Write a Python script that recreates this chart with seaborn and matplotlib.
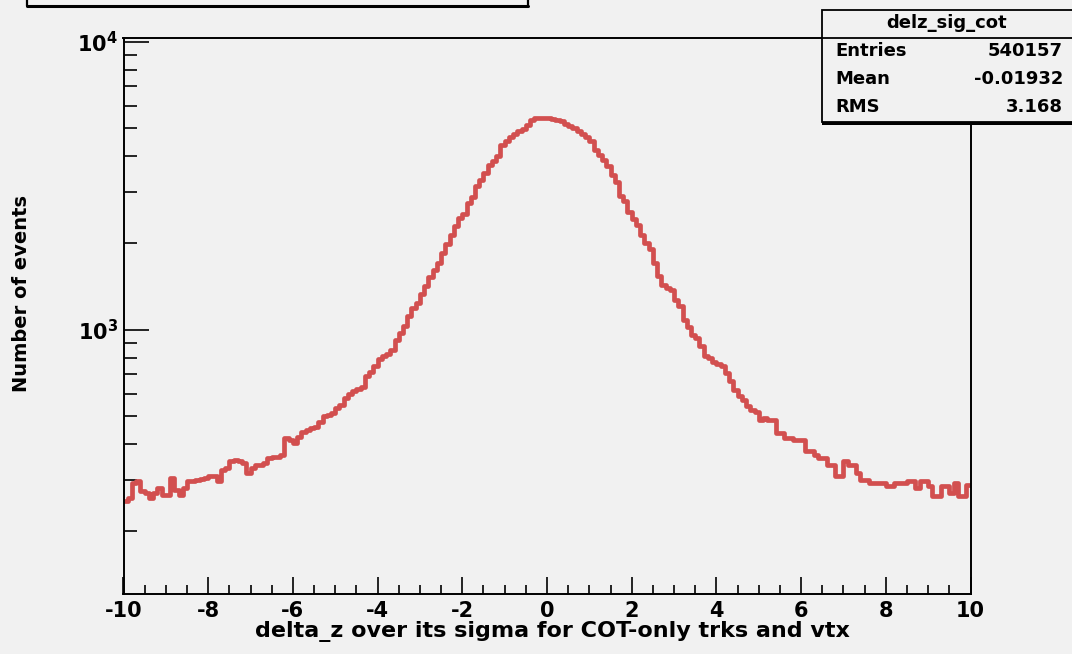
import numpy as np
import pandas as pd
import matplotlib
matplotlib.use("Agg")
import matplotlib.pyplot as plt
import seaborn as sns
from matplotlib.patches import Rectangle
from matplotlib.lines import Line2D
from matplotlib.ticker import LogLocator, FixedLocator, MultipleLocator, NullFormatter

# ---------------- data ----------------
x_min, x_max = -10.0, 10.0
counts_left_tail = [254, 261, 294, 298, 275, 271, 261, 271, 282, 267,
                    267, 305, 278, 267, 282, 298, 298, 301, 303, 305,
                    310, 310, 298, 326, 331, 349, 354, 349, 344, 318,
                    331, 340, 340, 344, 358, 363, 363, 368, 421, 415,
                    404, 426, 440, 450, 456, 461, 480, 500, 507, 514]
counts_left_core = [534, 549, 580, 600, 615, 622, 635, 690, 716, 746,
                    790, 812, 825, 850, 923, 973, 1027, 1112, 1189, 1240,
                    1330, 1420, 1530, 1616, 1700, 1846, 1980, 2138, 2300, 2450,
                    2530, 2754, 2880, 3146, 3300, 3500, 3743, 3850, 4000, 4389,
                    4506, 4650, 4800, 4900, 4990, 5150, 5358, 5434, 5434, 5420]
counts_right_core = [5434, 5380, 5358, 5300, 5200, 5100, 5015, 4900, 4780, 4650,
                     4506, 4217, 4050, 3900, 3690, 3453, 3250, 2904, 2800, 2560,
                     2420, 2316, 2138, 2000, 1900, 1704, 1531, 1433, 1400, 1377,
                     1271, 1205, 1083, 1020, 960, 936, 875, 808, 800, 776,
                     760, 746, 707, 662, 619, 587, 571, 545, 527, 520]
counts_right_tail = [487, 495, 487, 487, 438, 438, 421, 421, 415, 415,
                     415, 378, 378, 368, 358, 358, 340, 340, 310, 310,
                     349, 340, 340, 318, 301, 301, 294, 294, 294, 294,
                     286, 286, 294, 294, 294, 298, 298, 282, 298, 298,
                     286, 264, 264, 286, 286, 271, 294, 264, 264, 290]
counts = np.array(counts_left_tail + counts_left_core + counts_right_core + counts_right_tail, dtype=float)

x_ticks = [-10, -8, -6, -4, -2, 0, 2, 4, 6, 8, 10]
stats_title = "delz_sig_cot"
stats_labels = ["Entries", "Mean", "RMS"]
stats_values = ["540157", "-0.01932", "3.168"]
x_title = "delta_z over its sigma for COT-only trks and vtx"
y_title = "Number of events"

# ---------------- figure ----------------
bg = "#f1f1f1"
line_color = "#d24f4f"
W, H = 1072, 654
sns.set_style("ticks")
plt.rcParams["font.family"] = ["DejaVu Sans"]
plt.rcParams["font.weight"] = "bold"
plt.rcParams["mathtext.default"] = "bf"
plt.rcParams["text.color"] = "black"
plt.rcParams["xtick.color"] = "black"
plt.rcParams["ytick.color"] = "black"
plt.rcParams["xtick.labelcolor"] = "black"
plt.rcParams["ytick.labelcolor"] = "black"

fig = plt.figure(figsize=(W / 100, H / 100), dpi=100, facecolor=bg)
L, R, T, B = 123.5, 970.5, 38, 594
ax = fig.add_axes([L / W, 1 - B / H, (R - L) / W, (B - T) / H])
ax.set_facecolor(bg)

edges = np.linspace(x_min, x_max, len(counts) + 1)
centers = 0.5 * (edges[:-1] + edges[1:])
df = pd.DataFrame({"dz": centers, "n": counts})
sns.histplot(data=df, x="dz", weights="n", bins=edges.tolist(), element="step", fill=False,
             color=line_color, linewidth=3.4, ax=ax)

ax.set_yscale("log")
ax.set_xlim(x_min, x_max)
ax.set_ylim(121, 10300)
ax.set_xlabel("")
ax.set_ylabel("")

for s in ax.spines.values():
    s.set_color("black")
    s.set_linewidth(1.4)

ax.xaxis.set_major_locator(FixedLocator(x_ticks))
ax.xaxis.set_minor_locator(MultipleLocator(0.5))
ax.set_xticklabels([str(v) for v in x_ticks], fontsize=15, fontweight="bold", color="black")
ax.tick_params(axis="x", which="major", direction="in", length=12, width=1.2, pad=5)
ax.tick_params(axis="x", which="minor", direction="in", length=6.5, width=1.2)

ax.yaxis.set_minor_locator(LogLocator(base=10, subs=np.arange(2, 10), numticks=20))
ax.yaxis.set_minor_formatter(NullFormatter())
ax.set_yticks([1e3, 1e4])
ax.set_yticklabels([r"$\mathbf{10^{3}}$", r"$\mathbf{10^{4}}$"], fontsize=15, color="black")
ax.tick_params(axis="y", which="major", direction="in", length=18, width=1.2, pad=4)
ax.tick_params(axis="y", which="minor", direction="in", length=9, width=1.2)
ax.tick_params(top=False, right=False, which="both", colors="black")

fig.text(552 / W, 1 - 632 / H, x_title, ha="center", va="center",
         fontsize=16, fontweight="bold", color="black")
fig.text(22 / W, 1 - 294 / H, y_title, ha="center", va="center", rotation=90,
         fontsize=14, fontweight="bold", color="black")

# ---------------- title box (cut off at top) ----------------
fig.add_artist(Line2D([27 / W, 27 / W], [1 - 6 / H, 1.01], color="black", lw=1.6,
                      transform=fig.transFigure))
fig.add_artist(Line2D([528 / W, 528 / W], [1 - 6 / H, 1.01], color="black", lw=1.6,
                      transform=fig.transFigure))
fig.add_artist(Line2D([27 / W, 528 / W], [1 - 6 / H, 1 - 6 / H], color="black", lw=2.2,
                      transform=fig.transFigure))

# ---------------- stats box ----------------
bx0, bx1, by0, by1 = 822, 1080, 122, 10
fig.add_artist(Rectangle((bx0 / W, 1 - (by0 + 3) / H), (bx1 - bx0) / W, 3 / H,
                         transform=fig.transFigure, facecolor="black", edgecolor="none"))
fig.add_artist(Rectangle((bx0 / W, 1 - by0 / H), (bx1 - bx0) / W, (by0 - by1) / H,
                         transform=fig.transFigure, facecolor=bg, edgecolor="black", lw=1.3))
fig.add_artist(Line2D([bx0 / W, 1.0], [1 - 38 / H, 1 - 38 / H], color="black", lw=1.3,
                      transform=fig.transFigure))
fig.text(((bx0 + 1072) / 2) / W, 1 - 23 / H, stats_title, ha="center", va="center",
         fontsize=13, fontweight="bold", color="black")
for i, (lab, val) in enumerate(zip(stats_labels, stats_values)):
    yy = 1 - (51 + 28 * i) / H
    fig.text(835 / W, yy, lab, ha="left", va="center", fontsize=13, fontweight="bold", color="black")
    fig.text(1063 / W, yy, val, ha="right", va="center", fontsize=13, fontweight="bold", color="black")

fig.savefig("out.png", dpi=100, facecolor=bg)
